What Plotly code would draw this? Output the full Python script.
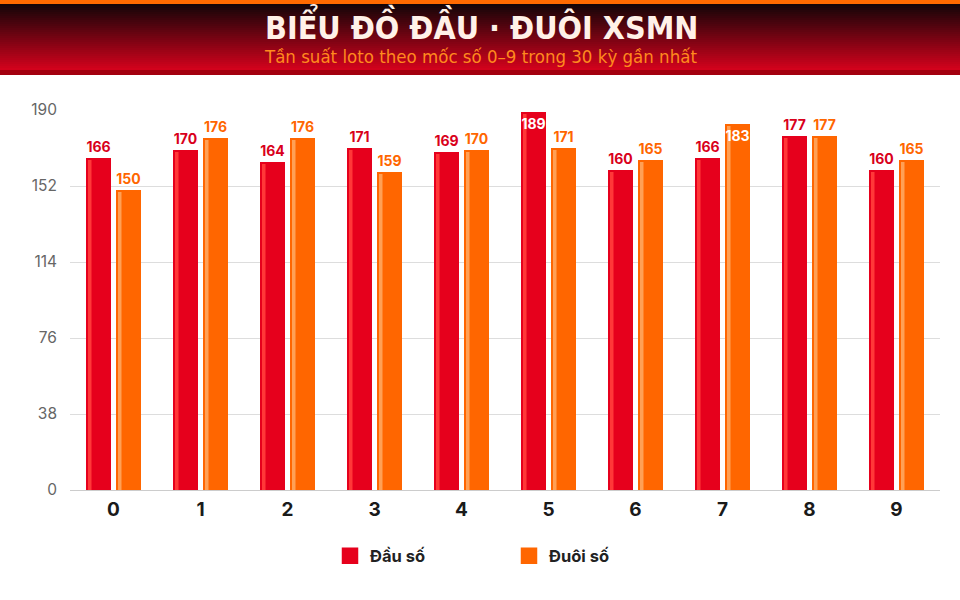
import plotly.graph_objects as go

categories = ["0", "1", "2", "3", "4", "5", "6", "7", "8", "9"]
dau_so = [166, 170, 164, 171, 169, 189, 160, 166, 177, 160]
duoi_so = [150, 176, 176, 159, 170, 171, 165, 183, 177, 165]
y_ticks = [0, 38, 76, 114, 152, 190]

title_text = "BIỂU ĐỒ ĐẦU · ĐUÔI XSMN"
subtitle_text = "Tần suất loto theo mốc số 0–9 trong 30 kỳ gần nhất"

RED = "#E6001C"
RED_HI = "#FF3838"
ORANGE = "#FF6600"
ORANGE_HI = "#FFA055"

COND = "DejaVu Sans Condensed, Roboto, sans-serif"

# geometry helpers (plot area: x 70..940, y 110..490 px)
L, R, T, B = 70, 940, 110, 490
def py(p):
    return (B - p) / (B - T)
def px(p):
    return (p - L) / (R - L)

UNIT = 87.0  # px per category
bw = 25 / UNIT
off_red = -27.5 / UNIT
off_or = 2.5 / UNIT
hi_w = 3.5 / UNIT

fig = go.Figure()

def pos_list(vals, limit=182):
    return ["inside" if v > limit else "outside" for v in vals]

def col_list(vals, base, limit=182):
    return ["#FFFFFF" if v > limit else base for v in vals]

for vals, col, hi, off, lab in [(dau_so, RED, RED_HI, off_red, "#D9001B"),
                                (duoi_so, ORANGE, ORANGE_HI, off_or, "#FF6600")]:
    fig.add_trace(go.Bar(
        x=categories, y=vals, marker=dict(color=col, line=dict(width=0)),
        width=bw, offset=off, showlegend=False, hoverinfo="skip"))
    fig.add_trace(go.Bar(
        x=categories, y=[v - 1 for v in vals], marker=dict(color=hi, line=dict(width=0)),
        width=hi_w, offset=off + 2 / UNIT, showlegend=False, hoverinfo="skip"))
    # text-only layer on top
    fig.add_trace(go.Bar(
        x=categories, y=vals, marker=dict(color="rgba(0,0,0,0)", line=dict(width=0)),
        width=bw, offset=off, text=[str(v) for v in vals],
        textposition=pos_list(vals), insidetextanchor="end", textangle=0,
        textfont=dict(family="Inter", size=14, color=col_list(vals, lab), weight=700),
        cliponaxis=False, showlegend=False, hoverinfo="skip"))

# legend entries
fig.add_trace(go.Scatter(x=[None], y=[None], mode="markers", name="Đầu số",
                         marker=dict(symbol="square", size=14, color=RED,
                                     line=dict(color=RED, width=2.5))))
fig.add_trace(go.Scatter(x=[None], y=[None], mode="markers", name="Đuôi số",
                         marker=dict(symbol="square", size=14, color=ORANGE,
                                     line=dict(color=ORANGE, width=2.5))))

shapes = []
# header gradient
top_c = (20, 5, 8)
bot_c = (210, 2, 28)
y0, y1 = 4, 70
n = 33
step = (y1 - y0) / n
for i in range(n):
    t = i / (n - 1)
    c = tuple(int(round(top_c[k] + (bot_c[k] - top_c[k]) * t)) for k in range(3))
    shapes.append(dict(type="rect", xref="paper", yref="paper",
                       x0=px(0), x1=px(960), y0=py(y0 + i * step + step + 0.5), y1=py(y0 + i * step),
                       fillcolor="rgb(%d,%d,%d)" % c, line=dict(width=0), layer="below"))
shapes.append(dict(type="rect", xref="paper", yref="paper", x0=px(0), x1=px(960),
                   y0=py(4), y1=py(0), fillcolor="#FF6A00", line=dict(width=0)))
shapes.append(dict(type="rect", xref="paper", yref="paper", x0=px(0), x1=px(960),
                   y0=py(75), y1=py(70), fillcolor="#A3000F", line=dict(width=0)))

annotations = [
    dict(text=title_text, x=px(481), xref="paper", y=py(25), yref="paper", showarrow=False,
         font=dict(family=COND, size=32, color="#FFF1E8", weight=700),
         xanchor="center", yanchor="middle"),
    dict(text=subtitle_text, x=px(480), xref="paper", y=py(56), yref="paper", showarrow=False,
         font=dict(family=COND, size=18.5, color="#FF8A1E"),
         xanchor="center", yanchor="middle"),
]

fig.update_layout(
    width=960, height=600,
    margin=dict(l=L, r=960 - R, t=T, b=600 - B),
    paper_bgcolor="#FFFFFF", plot_bgcolor="#FFFFFF",
    barmode="overlay",
    shapes=shapes, annotations=annotations,
    uniformtext=dict(mode="show", minsize=14),
    showlegend=True,
    legend=dict(orientation="h", x=px(330), xanchor="left", y=py(556), yanchor="middle",
                font=dict(family="Inter", size=16.5, color="#222222", weight=700),
                entrywidth=134, itemsizing="trace"),
    xaxis=dict(type="category", categoryorder="array", categoryarray=categories,
               tickfont=dict(family="Inter", size=19, color="#1A1A1A", weight=700),
               showgrid=False, showline=True, linecolor="#CCCCCC", linewidth=1,
               ticks="", ticklabelstandoff=2, fixedrange=True),
    yaxis=dict(range=[0, 190], tickvals=y_ticks, ticktext=[str(v) for v in y_ticks],
               tickfont=dict(family="Inter", size=15.5, color="#666666"),
               showgrid=True, gridcolor="#DDDDDD", gridwidth=1, zeroline=False,
               ticks="", ticklabelstandoff=12, showline=False, fixedrange=True),
)

fig.write_html("out.html", config={"displayModeBar": False},
               post_script="document.body.style.margin='0';document.body.style.padding='0';")
